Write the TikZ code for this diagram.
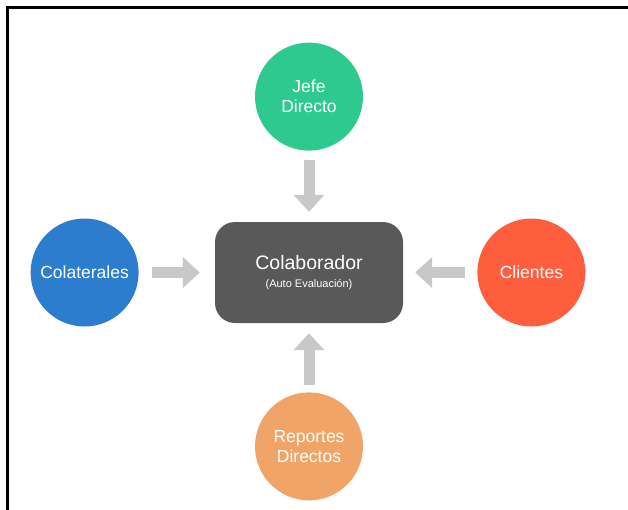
\documentclass[tikz,border=0pt]{standalone}
\usepackage{fontspec}
\setmainfont{Liberation Sans}
\usetikzlibrary{arrows.meta,positioning}
\definecolor{jefegreen}{RGB}{46,201,142}
\definecolor{colblue}{RGB}{45,125,207}
\definecolor{clired}{RGB}{255,94,62}
\definecolor{reporange}{RGB}{241,164,104}
\definecolor{boxgray}{RGB}{89,89,89}
\definecolor{arrowgray}{RGB}{200,200,200}

\begin{document}
\begin{tikzpicture}[x=1pt,y=-1pt,
   persona/.style={circle,minimum size=108pt,inner sep=0pt,text=white,
     align=center,font=\fontsize{17.5}{20}\selectfont},
   flecha/.style={draw=arrowgray,line width=11pt,
     -{Triangle[width=30pt,length=17pt]}}]
  \useasboundingbox (0,0) rectangle (628,509);
  \clip (0,0) rectangle (628,509);
  \draw[line width=2.5pt] (7.5,7.5) rectangle (700,600);
  % centre
  \node[fill=boxgray,rounded corners=20pt,minimum width=188pt,minimum height=101pt,
        text=white,align=center,font=\fontsize{19.5}{18.5}\selectfont] (colab) at (309,272.5)
       {Colaborador\\{\fontsize{11}{13}\selectfont (Auto Evaluación)}};
  % evaluadores
  \node[persona,fill=jefegreen,above=71pt of colab]   (jefe) {Jefe\\Directo};
  \node[persona,fill=colblue,left=76pt of colab]      (colaterales) {Colaterales};
  \node[persona,fill=clired,right=74pt of colab]      (clientes) {Clientes};
  \node[persona,fill=reporange,below=69pt of colab]   (reportes) {Reportes\\Directos};
  % flechas
  \draw[flecha,shorten <=9pt,shorten >=10pt]  (jefe) -- (colab);
  \draw[flecha,shorten <=13pt,shorten >=15pt] (colaterales) -- (colab);
  \draw[flecha,shorten <=12pt,shorten >=12pt] (clientes) -- (colab);
  \draw[flecha,shorten <=7pt,shorten >=10pt]  (reportes) -- (colab);
\end{tikzpicture}
\end{document}
